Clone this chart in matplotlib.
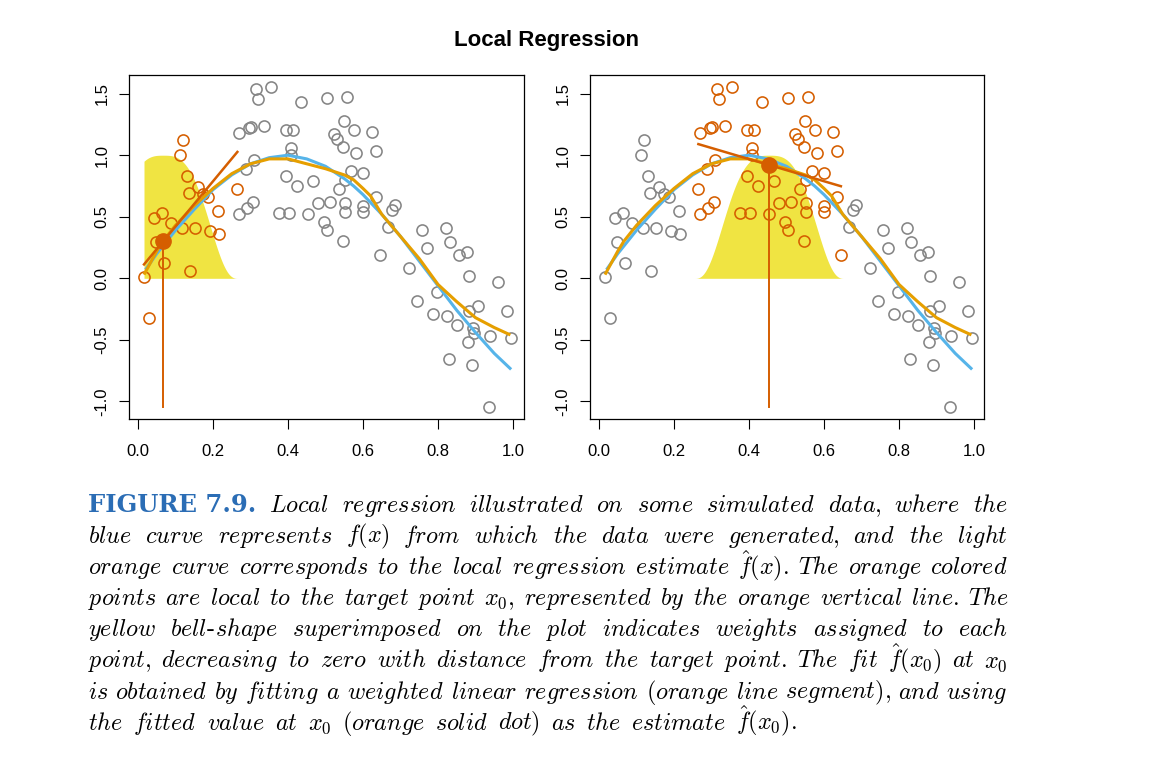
import numpy as np
import matplotlib
matplotlib.use("Agg")
import matplotlib.pyplot as plt

# ---------------- data ----------------
x_obs = [0.315, 0.319, 0.354, 0.434, 0.503, 0.557, 0.550, 0.577, 0.623, 0.523,
         0.531, 0.547, 0.581, 0.634, 0.567, 0.601, 0.535, 0.552, 0.481, 0.512,
         0.552, 0.552, 0.599, 0.599, 0.635, 0.677, 0.685, 0.496, 0.505, 0.546,
         0.667, 0.757, 0.821, 0.771, 0.832, 0.877, 0.857, 0.645, 0.723, 0.883,
         0.959, 0.797, 0.743, 0.787, 0.823, 0.851, 0.883, 0.907, 0.983, 0.894,
         0.897, 0.939, 0.881, 0.995, 0.830, 0.891, 0.936, 0.270, 0.296, 0.301,
         0.336, 0.395, 0.413, 0.407, 0.407, 0.310, 0.287, 0.395, 0.423, 0.466,
         0.306, 0.290, 0.270, 0.377, 0.403, 0.453, 0.121, 0.112, 0.130, 0.159,
         0.136, 0.174, 0.187, 0.265, 0.213, 0.043, 0.063, 0.087, 0.118, 0.152,
         0.192, 0.217, 0.048, 0.016, 0.069, 0.139, 0.030]
y_obs = [1.535, 1.454, 1.556, 1.430, 1.467, 1.475, 1.280, 1.205, 1.191, 1.170,
         1.129, 1.064, 1.020, 1.034, 0.874, 0.858, 0.723, 0.799, 0.614, 0.622,
         0.609, 0.541, 0.587, 0.541, 0.663, 0.555, 0.595, 0.460, 0.392, 0.305,
         0.414, 0.392, 0.406, 0.244, 0.297, 0.211, 0.189, 0.189, 0.081, 0.021,
         -0.028, -0.109, -0.184, -0.290, -0.306, -0.379, -0.266, -0.225, -0.266, -0.406,
         -0.447, -0.469, -0.515, -0.483, -0.658, -0.704, -1.043, 1.178, 1.219, 1.232,
         1.237, 1.205, 1.205, 1.056, 1.002, 0.961, 0.885, 0.831, 0.750, 0.790,
         0.622, 0.569, 0.522, 0.533, 0.533, 0.522, 1.123, 1.002, 0.831, 0.744,
         0.695, 0.685, 0.663, 0.723, 0.549, 0.487, 0.533, 0.447, 0.406, 0.411,
         0.384, 0.357, 0.292, 0.013, 0.122, 0.059, -0.325]

# true function f(x) (blue curve), read at these x positions
true_x = [0.02, 0.05, 0.10, 0.15, 0.20, 0.25, 0.30, 0.35, 0.40, 0.45, 0.50,
          0.55, 0.575, 0.60, 0.625, 0.65, 0.70, 0.75, 0.80, 0.85, 0.90, 0.95, 0.995]
true_f = [0.07, 0.20, 0.39, 0.56, 0.72, 0.84, 0.93, 0.98, 1.00, 0.97, 0.91,
          0.81, 0.75, 0.68, 0.60, 0.52, 0.34, 0.14, -0.06, -0.26, -0.44, -0.61, -0.74]

# local regression estimate (light orange curve)
loess_x = [0.016, 0.05, 0.066, 0.10, 0.15, 0.20, 0.25, 0.30, 0.35, 0.40, 0.45,
           0.50, 0.55, 0.575, 0.60, 0.62, 0.65, 0.70, 0.75, 0.80, 0.85, 0.90, 0.95, 0.993]
loess_f = [0.03, 0.22, 0.30, 0.43, 0.59, 0.73, 0.85, 0.93, 0.97, 0.97, 0.93,
           0.89, 0.84, 0.80, 0.73, 0.67, 0.52, 0.34, 0.16, -0.05, -0.19, -0.32, -0.40, -0.46]

# the two target points, local fit values and local slopes
target_x = [0.067, 0.454]
target_fit = [0.30, 0.92]
local_slope = [3.67, -0.90]
bandwidth = 0.2

xtick_vals = [0.0, 0.2, 0.4, 0.6, 0.8, 1.0]
xtick_labels = ["0.0", "0.2", "0.4", "0.6", "0.8", "1.0"]
ytick_vals = [-1.0, -0.5, 0.0, 0.5, 1.0, 1.5]
ytick_labels = ["-1.0", "-0.5", "0.0", "0.5", "1.0", "1.5"]

title_text = "Local Regression"
caption_head = "FIGURE 7.9."
caption_lines = [
    "Local regression illustrated on some simulated data, where the",
    "blue curve represents $f(x)$ from which the data were generated, and the light",
    r"orange curve corresponds to the local regression estimate $\hat{f}(x).$ The orange colored",
    "points are local to the target point $x_0,$ represented by the orange vertical line. The",
    "yellow bell-shape superimposed on the plot indicates weights assigned to each",
    r"point, decreasing to zero with distance from the target point. The fit $\hat{f}(x_0)$ at $x_0$",
    "is obtained by fitting a weighted linear regression (orange line segment), and using",
    r"the fitted value at $x_0$ (orange solid dot) as the estimate $\hat{f}(x_0).$",
]

# ---------------- style ----------------
BLUE = "#56B4E9"
ORANGE = "#E69F00"
VERM = "#D55E00"
YELLOW = "#F0E442"
GRAY = "#858585"
HEAD = "#2B6DB5"

plt.rcParams["mathtext.fontset"] = "cm"
plt.rcParams["axes.unicode_minus"] = False
plt.rcParams["font.family"] = ["Liberation Sans", "DejaVu Sans"]

W, H = 1163, 774
fig = plt.figure(figsize=(W / 100, H / 100), dpi=100)

XLIM = (-0.024, 1.028)
YLIM = (-1.143, 1.654)
pxu = 375.0
panel_left = [129.0, 590.0]
ax_w = (XLIM[1] - XLIM[0]) * pxu
ax_top, ax_bot = 74.7, 419.0

x = np.array(x_obs)
y = np.array(y_obs)

for k in range(2):
    ax = fig.add_axes([panel_left[k] / W, 1 - ax_bot / H, ax_w / W, (ax_bot - ax_top) / H])
    x0 = target_x[k]
    fx0 = target_fit[k]
    inwin = np.abs(x - x0) < bandwidth

    lo = max(x0 - bandwidth, x.min())
    hi = min(x0 + bandwidth, x.max())
    grid = np.linspace(lo, hi, 300)
    wts = (1 - np.abs((grid - x0) / bandwidth) ** 3) ** 3
    ax.fill_between(grid, 0, wts, color=YELLOW, lw=0, zorder=1)

    ax.plot(x[~inwin], y[~inwin], ls="none", marker="o", ms=8.0, mfc="none",
            mec=GRAY, mew=1.15, zorder=2)
    ax.plot(x[inwin], y[inwin], ls="none", marker="o", ms=8.0, mfc="none",
            mec=VERM, mew=1.15, zorder=2)

    ax.plot(true_x, true_f, color=BLUE, lw=2.2, zorder=3, solid_capstyle="butt")
    ax.plot(loess_x, loess_f, color=ORANGE, lw=2.2, zorder=4, solid_capstyle="butt")

    seg_x = np.array([x[inwin].min(), x[inwin].max()])
    seg_y = fx0 + local_slope[k] * (seg_x - x0)
    ax.plot(seg_x, seg_y, color=VERM, lw=1.8, zorder=5)
    ax.plot([x0, x0], [y.min(), fx0], color=VERM, lw=1.4, zorder=5)
    ax.plot([x0], [fx0], marker="o", ms=11, color=VERM, zorder=6)

    ax.set_xlim(*XLIM)
    ax.set_ylim(*YLIM)
    ax.set_xticks(xtick_vals)
    ax.set_xticklabels(xtick_labels)
    ax.set_yticks(ytick_vals)
    ax.set_yticklabels(ytick_labels, rotation=90, va="center")
    ax.tick_params(axis="both", direction="out", length=7.2, width=0.8,
                   labelsize=12, colors="black")
    ax.tick_params(axis="x", pad=11)
    ax.tick_params(axis="y", pad=7)
    for sp in ax.spines.values():
        sp.set_linewidth(0.9)
        sp.set_color("black")

fig.text(546 / W, 1 - 46 / H, title_text, ha="center", va="baseline",
         fontsize=16, fontweight="bold")

# ---------------- caption (justified) ----------------
FS = 17.4
renderer = fig.canvas.get_renderer()


def word_pieces(w):
    if w.startswith("$"):
        return [(w, {})]
    if "-" in w:
        a, b = w.split("-", 1)
        return [(r"$\mathit{%s}$" % a, {}), ("-", {"family": "cmr10"}),
                (r"$\mathit{%s}$" % b, {})]
    return [(r"$\mathit{%s}$" % w, {})]


def layout(tokens, base_px, x_left, x_right):
    groups = []
    widths = []
    for pieces in tokens:
        objs = []
        tot = 0.0
        for s, props in pieces:
            props = dict(props)
            fs = props.pop("fontsize", FS)
            t = fig.text(0, 0, s, fontsize=fs, ha="left", va="baseline", **props)
            wpx = t.get_window_extent(renderer).width
            objs.append((t, wpx))
            tot += wpx
        groups.append(objs)
        widths.append(tot)
    gap = (x_right - x_left - sum(widths)) / (len(tokens) - 1)
    xx = x_left
    for objs, wsum in zip(groups, widths):
        xp = xx
        for t, wpx in objs:
            t.set_position((xp / W, 1 - base_px / H))
            xp += wpx
        xx += wsum + gap


base0 = 511.7
step = 31.15
for i, line in enumerate(caption_lines):
    toks = [word_pieces(w) for w in line.split(" ")]
    if i == 0:
        toks = [[(caption_head, {"color": HEAD, "family": "DejaVu Serif",
                                 "fontweight": "bold", "fontsize": 17.5})]] + toks
    right = 1008 if i < len(caption_lines) - 1 else 797
    layout(toks, base0 + i * step, 88, right)

fig.savefig("out.png", dpi=100)
